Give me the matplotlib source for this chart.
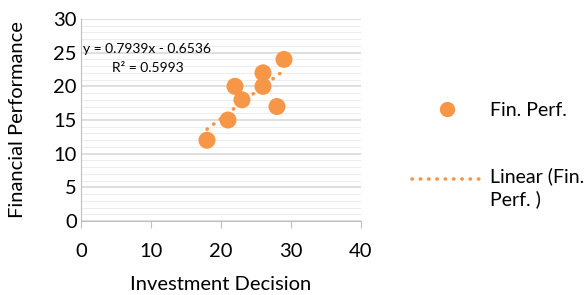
import matplotlib
matplotlib.use("Agg")
import matplotlib.pyplot as plt
from matplotlib.lines import Line2D
from matplotlib.legend_handler import HandlerLine2D
import numpy as np

plt.rcParams['font.family'] = ['Lato', 'DejaVu Sans']

investment = [18, 21, 22, 23, 26, 26, 28, 29]
performance = [12, 15, 20, 18, 22, 20, 17, 24]
slope = 0.7939
intercept = -0.6536
r2 = 0.5993
orange = '#F79646'

fig = plt.figure(figsize=(5.86, 2.95), dpi=100)
ax = fig.add_axes([0.1382, 0.2508, 0.4778, 0.6848])

ax.set_xlim(0, 40)
ax.set_ylim(0, 30)
ax.set_xticks([0, 10, 20, 30, 40])
ax.set_yticks([0, 5, 10, 15, 20, 25, 30])
ax.set_yticks(np.arange(0, 31, 1), minor=True)
ax.grid(True, axis='y', which='major', color='#D9D9D9', linewidth=1.2)
ax.grid(True, axis='y', which='minor', color='#EDEDED', linewidth=0.8)
ax.set_axisbelow(True)
for s in ['top', 'right']:
    ax.spines[s].set_visible(False)
for s in ['left', 'bottom']:
    ax.spines[s].set_color('#BFBFBF')
ax.tick_params(axis='y', which='both', length=0, labelsize=14.5, pad=3)
ax.tick_params(axis='x', which='major', length=5, color='#BFBFBF', labelsize=14.5, pad=11)
ax.tick_params(axis='x', which='minor', length=0)

xs = np.array([min(investment), max(investment)])
ax.plot(xs, slope * xs + intercept, linestyle=(0, (0.1, 2.2)), dash_capstyle='round',
        color=orange, linewidth=2.6, zorder=2)
ax.scatter(investment, performance, s=150, color=orange, edgecolors='none', zorder=3)

ax.text(0.3, 25.5, f"y = {slope}x - {abs(intercept)}", fontsize=10, ha='left', va='center')
ax.text(9.6, 22.7, f"R² = {r2}", fontsize=10, ha='center', va='center')

ax.set_xlabel('Investment Decision', fontsize=14.5, labelpad=11)
ax.set_ylabel('Financial Performance', fontsize=14.5, labelpad=20)


class ShiftedHandler(HandlerLine2D):
    def __init__(self, shift, **kw):
        super().__init__(**kw)
        self.shift = shift

    def create_artists(self, legend, orig_handle, xdescent, ydescent, width,
                       height, fontsize, trans):
        arts = super().create_artists(legend, orig_handle, xdescent, ydescent,
                                      width, height, fontsize, trans)
        for a in arts:
            a.set_ydata(np.asarray(a.get_ydata(), dtype=float) + self.shift)
        return arts


marker_handle = Line2D([], [], marker='o', linestyle='none', color=orange, markersize=10)
line_handle = Line2D([], [], linestyle=(0, (0.1, 2.2)), dash_capstyle='round',
                     color=orange, linewidth=2.6)
leg = fig.legend([marker_handle, line_handle], ['Fin. Perf.', 'Linear (Fin.\nPerf. )'],
                 loc='upper left', bbox_to_anchor=(0.703, 0.654), frameon=False, fontsize=14,
                 borderpad=0, borderaxespad=0,
                 handlelength=3.6, handletextpad=0.4, labelspacing=2.5,
                 handler_map={line_handle: ShiftedHandler(shift=6.5)})
for t in leg.get_texts():
    t.set_linespacing(1.3)

fig.savefig('out.png', dpi=100)
